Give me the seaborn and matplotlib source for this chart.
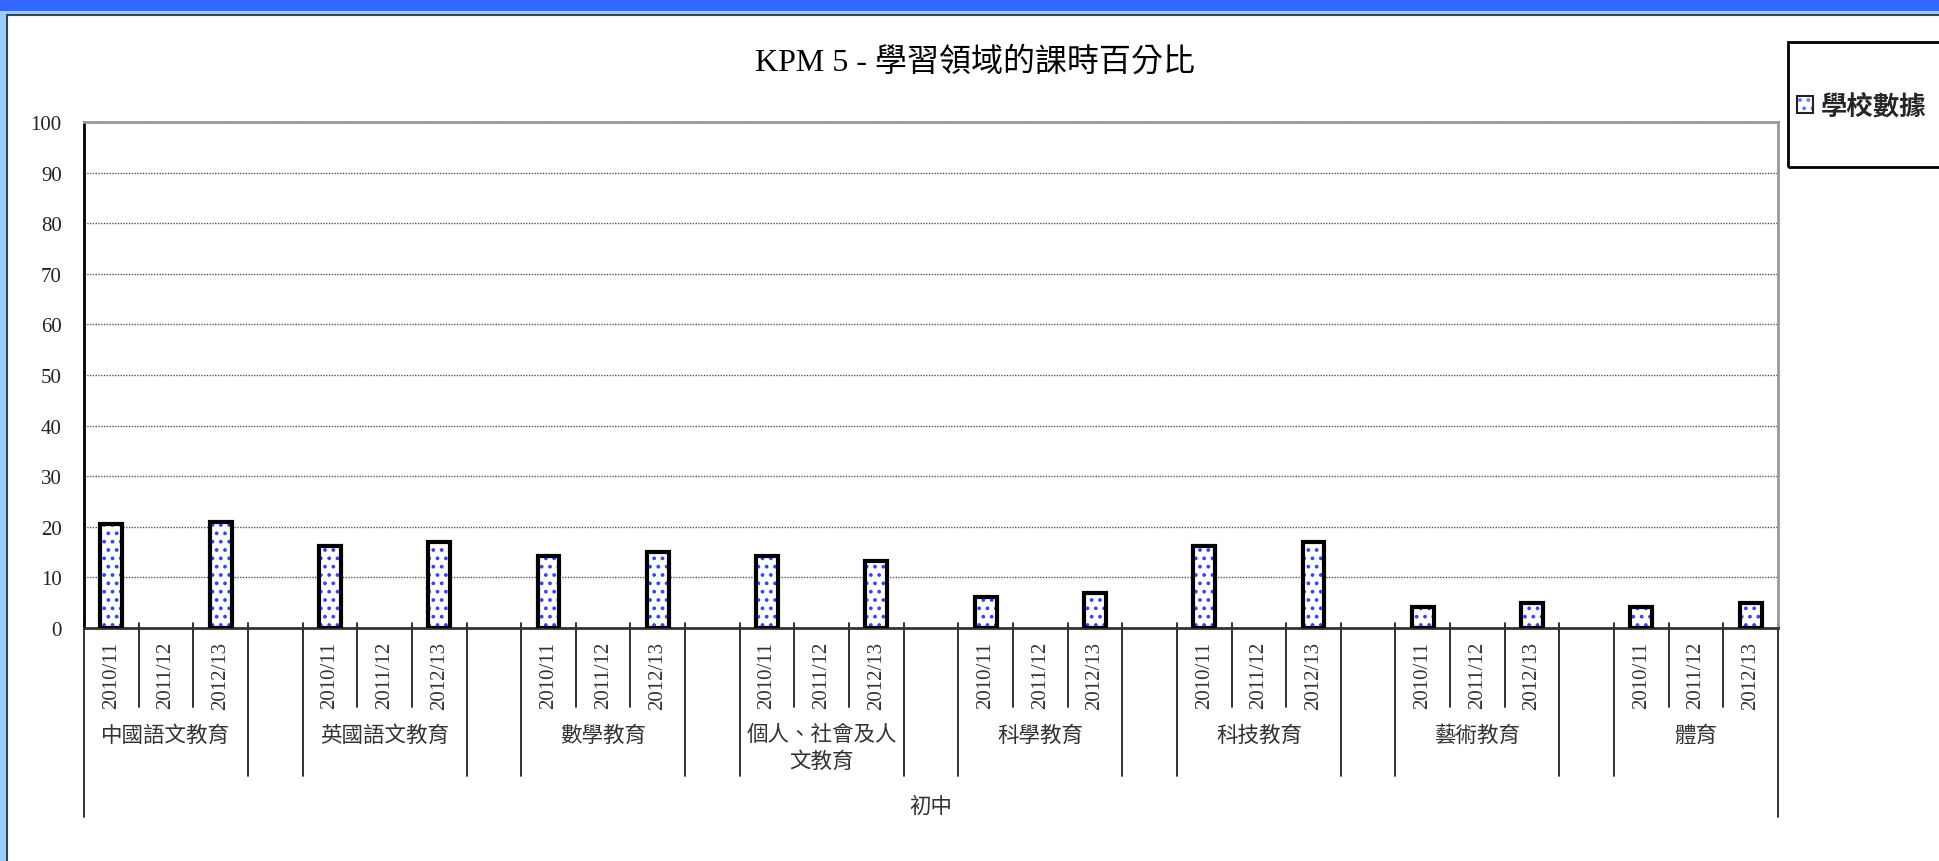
import matplotlib
matplotlib.use("Agg")
import matplotlib.pyplot as plt
from matplotlib.patches import Patch, Rectangle
from matplotlib.lines import Line2D
import pandas as pd
import seaborn as sns

# data
subjects = ["中國語文教育", "英國語文教育", "數學教育", "個人、社會及人\n文教育",
            "科學教育", "科技教育", "藝術教育", "體育"]
years = ["2010/11", "2011/12", "2012/13"]
val_2010 = [20.5, 16.3, 14.3, 14.3, 6.1, 16.3, 4.1, 4.1]
val_2011 = [None] * 8
val_2012 = [21.0, 17.0, 15.1, 13.2, 7.0, 17.0, 5.0, 5.0]
level_label = "初中"
legend_label = "學校數據"
title = "KPM 5 - 學習領域的課時百分比"
y_ticks = list(range(0, 101, 10))

W, H = 1939, 862
SERIF = ["Liberation Serif", "Noto Sans CJK TC", "DejaVu Sans"]
SANS = ["Noto Sans CJK TC", "DejaVu Sans"]

sns.set_style("white")
plt.rcParams["font.family"] = SERIF
plt.rcParams["hatch.linewidth"] = 1.5

# one slot per year, an empty slot between subject groups
order, rows = [], []
for g, subj in enumerate(subjects):
    for y, vals in zip(years, [val_2010, val_2011, val_2012]):
        key = f"{g}|{y}"
        order.append(key)
        if vals[g] is not None:
            rows.append({"slot": key, "value": vals[g]})
    if g < len(subjects) - 1:
        order.append(f"gap{g}")
df = pd.DataFrame(rows)

fig = plt.figure(figsize=(W / 100, H / 100), dpi=100, facecolor="#99CCFF")

# window-like frame
fig.add_artist(Rectangle((7 / W, 0), 1, 1 - 17 / H, transform=fig.transFigure,
                         facecolor="white", edgecolor="none", zorder=0))
fig.add_artist(Line2D([7 / W, 7 / W], [0, 1 - 16 / H], transform=fig.transFigure,
                      color="#334455", lw=1.5))
fig.add_artist(Line2D([7 / W, 1], [1 - 16 / H, 1 - 16 / H], transform=fig.transFigure,
                      color="#334455", lw=1.5))
fig.add_artist(Rectangle((0, 1 - 12 / H), 1, 12 / H, transform=fig.transFigure,
                         facecolor="#3366FF", edgecolor="none"))

ax = fig.add_axes([84 / W, 1 - 629 / H, (1778 - 84) / W, (629 - 123) / H])
ax.set_facecolor("white")

sns.barplot(data=df, x="slot", y="value", order=order, ax=ax, width=0.4,
            color="white", edgecolor="#3344FF", linewidth=0, hatch="..",
            errorbar=None, zorder=3)
sns.barplot(data=df, x="slot", y="value", order=order, ax=ax, width=0.4,
            color="black", fill=False, linewidth=3, errorbar=None, zorder=4)

ax.set_xlim(-0.5, len(order) - 0.5)
ax.set_ylim(0, 100)
ax.set_yticks(y_ticks)
ax.set_yticklabels([str(t) for t in y_ticks], fontsize=15, color="#222")
ax.tick_params(axis="y", length=0, pad=16)
ax.set_xticks([])
ax.set_xlabel("")
ax.set_ylabel("")
ax.yaxis.grid(True, linestyle=(0, (1, 1)), color="#555", lw=1)
ax.set_axisbelow(True)

ax.spines["left"].set_color("black")
ax.spines["left"].set_linewidth(2)
ax.spines["bottom"].set_color("#333")
ax.spines["bottom"].set_linewidth(2)
for s in ["top", "right"]:
    ax.spines[s].set_color("#999")
    ax.spines[s].set_linewidth(2)

# hierarchical x axis
trans = ax.get_xaxis_transform()
ah = 629 - 123
y_top = 5 / ah
y_year = -79 / ah
y_group = -148 / ah
y_outer = -189 / ah
n = len(order)
for k in range(n + 1):
    b = k - 0.5
    if k == 0 or k == n:
        y_end = y_outer
    elif k % 4 in (1, 2):
        y_end = y_year
    else:
        y_end = y_group
    ax.plot([b, b], [y_top, y_end], transform=trans, color="#222", lw=1.3,
            clip_on=False)

for i, key in enumerate(order):
    if key.startswith("gap"):
        continue
    ax.text(i, -13 / ah, key.split("|")[1], transform=trans, rotation=90,
            ha="center", va="top", fontsize=15, color="#333")

for g, subj in enumerate(subjects):
    ax.text(4 * g + 1, -97 / ah, subj, transform=trans, ha="center", va="top",
            fontsize=15.5, color="#333", linespacing=1.35, family=SERIF)

ax.text((n - 1) / 2, -179 / ah, level_label, transform=trans, ha="center",
        va="center", fontsize=15.5, color="#333")

fig.text(975 / W, 1 - 62 / H, title, ha="center", va="center", fontsize=23,
         color="black", family=SERIF)

# legend box
fig.add_artist(Rectangle((1788 / W, 1 - 168 / H), 0.2, 125 / H,
                         transform=fig.transFigure, fill=False,
                         edgecolor="black", lw=2))
handle = (Patch(facecolor="white", edgecolor="#6677FF", hatch="..", lw=0),
          Patch(facecolor="none", edgecolor="#222", lw=1.5))
fig.legend([handle], [legend_label], loc="center left",
           bbox_to_anchor=(1797 / W, 1 - 107 / H), frameon=False,
           prop={"family": SANS, "size": 19, "weight": "bold"},
           handlelength=0.6, handleheight=0.6, handletextpad=0.3,
           borderpad=0, borderaxespad=0)

fig.savefig("out.png", dpi=100, facecolor=fig.get_facecolor())
